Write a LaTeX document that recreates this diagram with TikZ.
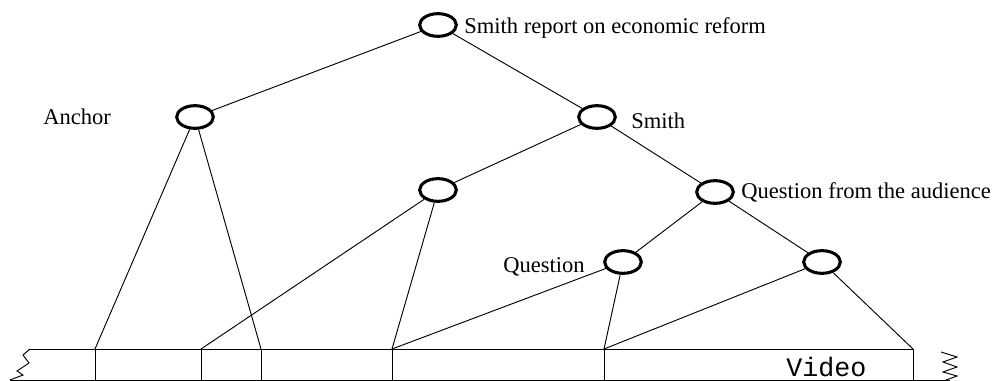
\documentclass[tikz,border=0pt]{standalone}
\usepackage{fontspec}
\setmainfont{Liberation Serif}
\newfontfamily\monofont{Liberation Mono}
\usetikzlibrary{shapes.geometric}
\begin{document}
\begin{tikzpicture}[x=0.75pt,y=-0.75pt,
  seg/.style={draw,ellipse,line width=2.3pt,minimum width=27.5pt,minimum height=17pt,inner sep=0pt},
  lbl/.style={anchor=west,inner sep=0pt,font=\fontsize{16.9}{19}\selectfont},
  edge/.style={line width=0.7pt}]
\useasboundingbox (0,0) rectangle (993,381);

% segment tree
\node[seg] (root) at (438,25) {};
\node[seg] (anc)  at (195,117) {};
\node[seg] (smi)  at (597,117) {};
\node[seg] (mid)  at (438,190) {};
\node[seg] (qfa)  at (715,192) {};
\node[seg] (que)  at (623,262) {};
\node[seg] (lea)  at (822,262) {};

\node[lbl] (lroot) at (464,28) {Smith report on economic reform};
\node[lbl] (lanc)  at (43,117) {Anchor};
\node[lbl] (lsmi)  at (631,121) {Smith};
\node[lbl] (lqfa)  at (741,192) {Question from the audience};
\node[lbl,anchor=east] (lque) at (585,267) {Question};

% video strip boundaries
\coordinate (t0) at (30,349);
\coordinate (t1) at (95,349);
\coordinate (t2) at (201,349);
\coordinate (t3) at (261,349);
\coordinate (t4) at (392,349);
\coordinate (t5) at (604,349);
\coordinate (t6) at (913,349);
\coordinate (b1) at (95,381);
\coordinate (b2) at (201,381);
\coordinate (b3) at (261,381);
\coordinate (b4) at (392,381);
\coordinate (b5) at (604,381);
\coordinate (b6) at (913,381);

\draw[edge] (t0) -- (t6);
\draw[edge] (10,380) -- (950,380);
\foreach \i in {1,...,6} \draw[edge] (t\i) -- (b\i);
% torn ends
\draw[edge] (t0) -- (23,355) -- (29,363) -- (17,371) -- (23,375) -- (10,380);
\draw[edge] (941,352) -- (957,357) -- (943,362) -- (957,367) -- (943,372) -- (957,376) -- (946,380);
\node[anchor=base west,inner sep=0pt,font=\monofont\fontsize{20}{22}\selectfont] (vid) at (786,376) {Video};

% tree edges
\draw[edge] (root) -- (anc);
\draw[edge] (root) -- (smi);
\draw[edge] (anc) -- (t1);
\draw[edge] (anc) -- (t3);
\draw[edge] (smi) -- (mid);
\draw[edge] (smi) -- (qfa);
\draw[edge] (mid) -- (t2);
\draw[edge] (mid) -- (t4);
\draw[edge] (qfa) -- (que);
\draw[edge] (qfa) -- (lea);
\draw[edge] (que) -- (t4);
\draw[edge] (que) -- (t5);
\draw[edge] (lea) -- (t5);
\draw[edge] (lea) -- (t6);
\end{tikzpicture}
\end{document}
